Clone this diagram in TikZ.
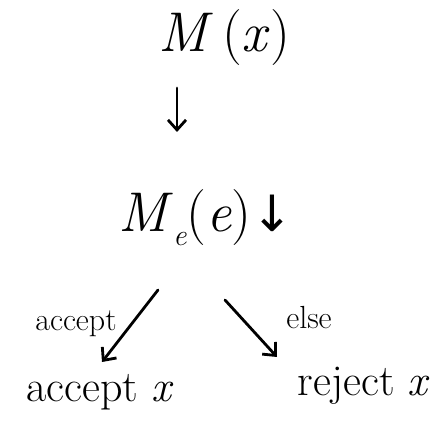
\documentclass[tikz,border=0pt]{standalone}
\usepackage{fontspec}
\newfontfamily\symfont{DejaVu Sans}
\usetikzlibrary{arrows.meta,calc}
\begin{document}
\begin{tikzpicture}[x=1pt,y=1pt,
  arr/.style={line width=2.8pt,line cap=round,-{Straight Barb[length=10pt,width=18pt,line width=2.8pt]}},
  big/.style={font=\fontsize{56}{60}\selectfont},
  mid/.style={font=\fontsize{44}{50}\selectfont},
  lab/.style={font=\fontsize{32}{36}\selectfont}]
\useasboundingbox (0,0) rectangle (448,436);
\node[big] (mx) at (224,398) {\textit{M}\,(\textit{x})};
\node[big] (me) at (206,218) {\textit{M}{\itshape\fontsize{30}{30}\selectfont\raisebox{-14pt}{e}}(\textit{e}){\symfont\fontsize{50}{54}\selectfont↓}};
\node[mid] (acc) at (100,44) {accept \textit{x}};
\node[mid] (rej) at (364,50) {reject \textit{x}};
\node[lab] (la) at (76,112) {accept};
\node[lab] (le) at (309,118) {else};
\coordinate (t1) at (177,348);
\coordinate (t2) at (177,304);
\coordinate (l1) at (158,146);
\coordinate (l2) at (102,74);
\coordinate (r1) at (225,136);
\coordinate (r2) at (277,79);
\draw[arr] (t1) -- (t2);
\draw[arr] (l1) -- (l2);
\draw[arr] (r1) -- (r2);
\end{tikzpicture}
\end{document}
